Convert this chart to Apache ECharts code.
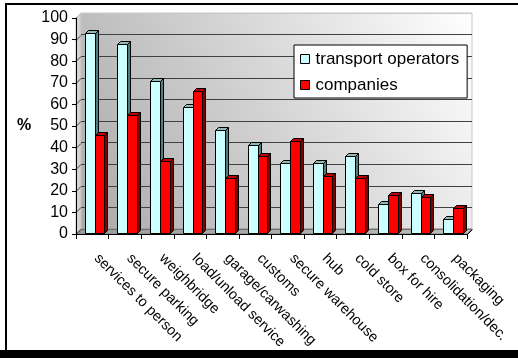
<!DOCTYPE html>
<html>
<head>
<meta charset="utf-8">
<script src="https://cdn.jsdelivr.net/npm/echarts@6/dist/echarts.min.js"></script>
<style>
  html, body { margin: 0; padding: 0; background: #fff; }
  #chart { width: 518px; height: 358px; }
</style>
</head>
<body>
<div id="chart"></div>
<script>
// Survey results: share (%) of respondents wanting each service
const categories = [
  'services to person', 'secure parking', 'weighbridge', 'load/unload service',
  'garage/carwashing', 'customs', 'secure warehouse', 'hub', 'cold store',
  'box for hire', 'consolidation/dec.', 'packaging'
];
const transportOperators = [93, 88, 71, 59, 48, 41, 33, 33, 36, 14, 19, 7];
const companies = [46, 55, 34, 66, 26, 36, 43, 27, 26, 18, 17, 12];
const yTicks = [0, 10, 20, 30, 40, 50, 60, 70, 80, 90, 100];

// Front plane of the 3D box and its depth offset
const FRONT = { left: 76, top: 18, width: 391, height: 216 };
const DX = 5, DY = -5;       // wall depth
const BAR_DEPTH = 3;         // column depth
const FONT = '"Liberation Sans", Arial, sans-serif';

const frontBottom = FRONT.top + FRONT.height;
const frontRight = FRONT.left + FRONT.width;
const yMax = yTicks[yTicks.length - 1];
const pxPerUnit = FRONT.height / yMax;

function makeBarRenderer(startFrac, endFrac, faceColor, sideColor, topColor) {
  return function (params, api) {
    const idx = api.value(0);
    const top = api.coord([idx, api.value(1)]);
    const base = api.coord([idx, 0]);
    const band = api.size([1, 0])[0];
    const x0 = Math.round(base[0] + band * startFrac) + 0.5;
    const x1 = Math.round(base[0] + band * endFrac) + 0.5;
    const yt = Math.round(top[1]) + 0.5;
    const yb = Math.round(base[1]) - 0.5;
    const d = BAR_DEPTH;
    const stroke = { stroke: '#000', lineWidth: 1 };
    return {
      type: 'group',
      children: [
        { type: 'polygon', shape: { points: [[x1, yt], [x1 + d, yt - d], [x1 + d, yb - d], [x1, yb]] },
          style: Object.assign({ fill: sideColor }, stroke) },
        { type: 'polygon', shape: { points: [[x0, yt], [x0 + d, yt - d], [x1 + d, yt - d], [x1, yt]] },
          style: Object.assign({ fill: topColor }, stroke) },
        { type: 'rect', shape: { x: x0, y: yt, width: x1 - x0, height: yb - yt },
          style: Object.assign({ fill: faceColor }, stroke) }
      ]
    };
  };
}

// Decorative walls, floor and depth lines of the 3D frame
const bg = [];
bg.push({
  type: 'rect', z: -10,
  shape: { x: FRONT.left + DX, y: FRONT.top + DY, width: FRONT.width, height: FRONT.height },
  style: {
    fill: new echarts.graphic.LinearGradient(1, 0, 0, 1, [
      { offset: 0, color: '#ffffff' }, { offset: 1, color: '#a9a9a9' }
    ]),
    stroke: '#c8c8c8', lineWidth: 1
  }
});
bg.push({
  type: 'polygon', z: -9,
  shape: { points: [[FRONT.left, frontBottom], [FRONT.left, FRONT.top], [FRONT.left + DX, FRONT.top + DY], [FRONT.left + DX, frontBottom + DY]] },
  style: { fill: '#d4d4d4', stroke: '#bdbdbd', lineWidth: 1 }
});
bg.push({
  type: 'polygon', z: -9,
  shape: { points: [[FRONT.left, frontBottom], [frontRight, frontBottom], [frontRight + DX, frontBottom + DY], [FRONT.left + DX, frontBottom + DY]] },
  style: {
    fill: new echarts.graphic.LinearGradient(0, 0, 1, 0, [
      { offset: 0, color: '#9a9a9a' }, { offset: 1, color: '#bcbcbc' }
    ]),
    stroke: '#808080', lineWidth: 1
  }
});
bg.push({
  type: 'line', z: 5,
  shape: { x1: frontRight + 0.5, y1: frontBottom + 0.5, x2: frontRight + DX + 0.5, y2: frontBottom + DY + 0.5 },
  style: { stroke: '#000', lineWidth: 1 }
});
yTicks.forEach(function (v) {
  const yf = Math.round(frontBottom - v * pxPerUnit) + 0.5;
  bg.push({
    type: 'line', z: -8,
    shape: { x1: FRONT.left, y1: yf, x2: FRONT.left + DX, y2: yf + DY },
    style: { stroke: v === yMax ? '#c8c8c8' : '#404040', lineWidth: 1 }
  });
});
// "%" axis caption
bg.push({
  type: 'text', left: 17, top: 118,
  style: { text: '%', font: 'bold 16px ' + FONT, fill: '#000' }
});
// Outer frame
bg.push({
  type: 'rect', z: 20,
  shape: { x: 6, y: 4, width: 530, height: 347 },
  style: { fill: 'none', stroke: '#000', lineWidth: 2 }
});
bg.push({
  type: 'rect', z: 20,
  shape: { x: 0, y: 350, width: 518, height: 8 },
  style: { fill: '#000' }
});

const gridLineColors = yTicks.map(function (v) {
  return v === 0 ? '#707070' : (v === yMax ? '#c8c8c8' : '#404040');
});

const option = {
  animation: false,
  backgroundColor: '#ffffff',
  textStyle: { fontFamily: FONT },
  graphic: { elements: bg },
  legend: {
    orient: 'vertical',
    left: 294, top: 45,
    backgroundColor: '#ffffff',
    borderColor: '#000', borderWidth: 1, borderRadius: 0,
    padding: [4, 8, 3, 6],
    itemWidth: 9, itemHeight: 9, itemGap: 6,
    icon: 'rect',
    itemStyle: { borderColor: '#000', borderWidth: 1 },
    textStyle: { fontSize: 17, color: '#000', fontFamily: FONT, lineHeight: 20, padding: [0, 0, 0, 1] },
    data: ['transport operators', 'companies']
  },
  grid: [
    { left: FRONT.left, top: FRONT.top, width: FRONT.width, height: FRONT.height, containLabel: false },
    { left: FRONT.left + DX, top: FRONT.top + DY, width: FRONT.width, height: FRONT.height, containLabel: false }
  ],
  xAxis: [
    {
      type: 'category', gridIndex: 0, data: categories, boundaryGap: true,
      axisLine: { show: true, lineStyle: { color: '#000', width: 1 } },
      axisTick: { show: true, interval: 0, length: 5, lineStyle: { color: '#000' } },
      axisLabel: { interval: 0, rotate: -45, margin: 18, padding: [0, 0, 0, 6], fontSize: 14.5, color: '#000', fontFamily: FONT },
      splitLine: { show: false }, z: 6
    },
    {
      type: 'category', gridIndex: 1, data: categories, boundaryGap: true,
      axisLine: { show: false }, axisTick: { show: false }, axisLabel: { show: false },
      splitLine: { show: false }
    }
  ],
  yAxis: [
    {
      type: 'value', gridIndex: 0, min: 0, max: yMax, interval: 10,
      axisLine: { show: true, lineStyle: { color: '#000', width: 1 } },
      axisTick: { show: true, length: 4, lineStyle: { color: '#000' } },
      axisLabel: { margin: 8, fontSize: 16, color: '#000', fontFamily: FONT },
      splitLine: { show: false }, z: 6
    },
    {
      type: 'value', gridIndex: 1, min: 0, max: yMax, interval: 10,
      axisLine: { show: false }, axisTick: { show: false }, axisLabel: { show: false },
      splitLine: { show: true, lineStyle: { color: gridLineColors, width: 1 } }
    }
  ],
  series: [
    {
      name: 'transport operators', type: 'custom', xAxisIndex: 0, yAxisIndex: 0,
      itemStyle: { color: '#ccffff', borderColor: '#000', borderWidth: 1 },
      encode: { x: 0, y: 1 },
      renderItem: makeBarRenderer(-0.23, 0.077, '#ccffff', '#4d7d7d', '#8fb8b8'),
      data: transportOperators.map(function (v, i) { return [i, v]; }),
      z: 3
    },
    {
      name: 'companies', type: 'custom', xAxisIndex: 0, yAxisIndex: 0,
      itemStyle: { color: '#ff0000', borderColor: '#000', borderWidth: 1 },
      encode: { x: 0, y: 1 },
      renderItem: makeBarRenderer(0.077, 0.37, '#ff0000', '#800000', '#c00000'),
      data: companies.map(function (v, i) { return [i, v]; }),
      z: 4
    }
  ]
};

const chart = echarts.init(document.getElementById('chart'), null, { renderer: 'canvas' });
chart.setOption(option);
</script>
</body>
</html>
